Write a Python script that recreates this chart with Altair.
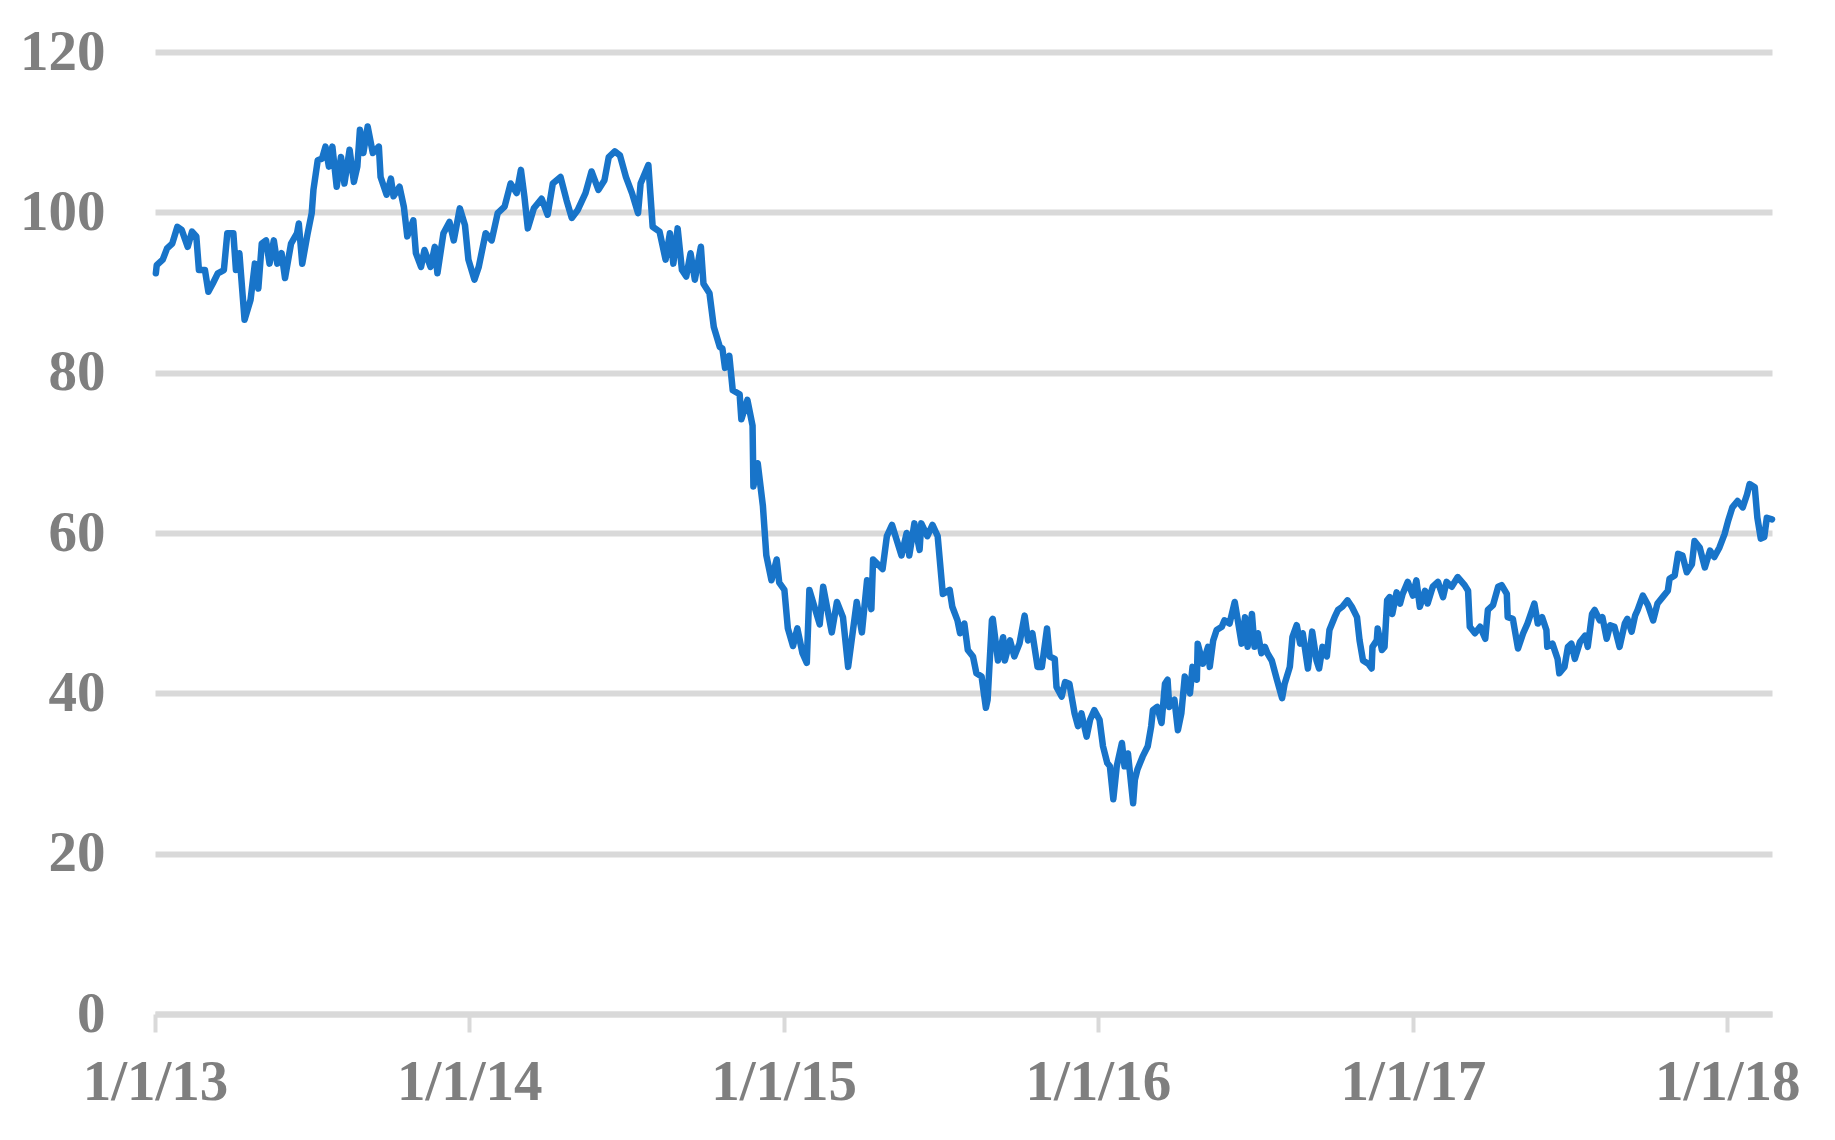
import altair as alt
import pandas as pd

# Days after 2013-01-01 and the price
day_offset = [
    1, 2, 9, 14, 20, 26, 31, 38, 43, 48, 51, 58, 62, 67, 73, 80, 84, 91, 94, 98,
    104, 111, 116, 120, 124, 129, 133, 138, 142, 147, 151, 158, 165, 167, 171, 177, 182, 184, 189, 194,
    198, 202, 206, 211, 216, 220, 226, 231, 235, 238, 242, 247, 253, 260, 262, 269, 274, 277, 284, 289,
    293, 300, 303, 309, 313, 320, 325, 328, 335, 342, 347, 354, 360, 364, 371, 376, 384, 391, 398, 406,
    413, 420, 425, 429, 433, 440, 449, 456, 462, 471, 478, 484, 491, 500, 507, 515, 522, 527, 534, 540,
    547, 554, 561, 564, 573, 578, 586, 593, 598, 602, 607, 612, 617, 622, 627, 634, 637, 644, 649, 656,
    659, 662, 667, 671, 679, 681, 688, 694, 695, 700, 706, 710, 716, 722, 725, 731, 735, 741, 746, 752,
    757, 760, 772, 776, 786, 792, 799, 805, 815, 821, 827, 832, 834, 845, 850, 856, 867, 873, 876, 882,
    888, 890, 897, 903, 909, 915, 923,
    926, 932, 935, 940, 944, 950, 954, 960, 965, 967, 972, 973, 979, 985, 987, 993, 998, 1004, 1010, 1014,
    1019, 1025, 1030, 1036, 1039, 1045, 1047, 1053, 1057, 1062, 1068, 1072, 1076, 1082, 1086, 1091, 1097, 1101, 1106, 1109,
    1113, 1117, 1123, 1126, 1130, 1136, 1138, 1141, 1147, 1153, 1157, 1159, 1164, 1169, 1173, 1176, 1178, 1184, 1188, 1192,
    1196, 1202, 1205, 1210, 1211, 1217, 1223, 1225, 1229, 1233, 1239, 1242, 1248, 1254, 1257, 1262, 1266, 1269, 1274, 1277,
    1281, 1285, 1289, 1292, 1297, 1303, 1309, 1312, 1318, 1321, 1326, 1330, 1333, 1339, 1344, 1349, 1352, 1356, 1361, 1364,
    1370, 1374, 1379, 1385, 1390, 1396, 1399, 1403, 1409, 1413, 1414, 1419, 1420, 1425, 1428, 1431, 1434, 1437, 1442,
    1446, 1449, 1455, 1461, 1465, 1469, 1475, 1478, 1484, 1490, 1496, 1500, 1506, 1513, 1521, 1525, 1527, 1533, 1539, 1545,
    1548, 1554, 1560, 1564, 1570, 1571, 1577, 1583, 1589, 1594, 1602, 1606, 1611, 1616, 1617, 1623, 1629, 1631, 1637, 1641,
    1645, 1649, 1655, 1661, 1664, 1669, 1672, 1678, 1681, 1686, 1690, 1695, 1701, 1707, 1710, 1715, 1719, 1722, 1728, 1734,
    1740, 1745, 1751, 1757, 1759, 1765, 1769, 1774, 1779, 1785, 1788, 1794, 1800, 1806, 1811, 1817, 1823, 1827, 1832, 1838,
    1844, 1849, 1852, 1858, 1861, 1865, 1869, 1872, 1878,
]

price = [
    92.4, 93.4, 94.1, 95.5, 96.1, 98.2, 97.8, 95.7, 97.6, 97.0, 92.8, 92.8, 90.1, 91.1, 92.4, 92.8, 97.4, 97.4, 92.8, 94.9,
    86.6, 89.1, 93.6, 90.5, 96.1, 96.5, 93.6, 96.5, 93.6, 94.9, 91.8, 96.1, 97.4, 98.6, 93.6, 97.2, 99.9, 102.8, 106.5, 106.7,
    108.2, 105.7, 108.2, 103.2, 106.9, 103.6, 107.8, 103.8, 105.7, 110.3, 107.4, 110.7, 107.4, 108.2, 104.4, 102.2, 104.2, 102.0, 103.2, 100.7,
    97.0, 99.0, 94.9, 93.2, 95.3, 93.2, 95.7, 92.4, 97.4, 98.8, 96.5, 100.5, 98.4, 94.1, 91.6, 93.2, 97.4, 96.5, 99.9, 100.7,
    103.6, 102.4, 105.3, 102.0, 98.0, 100.5, 101.7, 99.7, 103.6, 104.4, 101.5, 99.3, 100.3, 102.4, 105.1, 102.8, 104.0, 106.9, 107.6, 107.1,
    104.4, 102.4, 99.9, 103.6, 105.9, 98.2, 97.6, 94.1, 97.4, 93.6, 98.0, 92.8, 92.0, 94.9, 91.6, 95.7, 91.1, 89.9, 85.7, 83.2,
    83.0, 80.6, 82.1, 77.8, 77.3, 74.2, 76.6, 73.4, 65.8, 68.7, 63.4, 57.2, 54.1, 56.7, 53.8, 52.9, 48.1, 45.9, 48.1, 45.0,
    43.8, 52.9, 48.6, 53.3, 47.6, 51.4, 49.5, 43.3, 51.4, 47.6, 54.1, 50.5, 56.7, 55.5, 59.6, 61.0, 57.2, 60.0, 57.2, 61.2,
    57.9, 61.2, 59.6, 61.0, 59.6, 52.4, 52.9,
    50.8, 49.1, 47.5, 48.7, 45.4, 44.6, 42.5, 42.1, 38.2, 39.2, 49.1, 49.3, 44.1, 47.0, 44.1, 46.6, 44.6, 46.2, 49.7, 46.6,
    47.5, 43.3, 43.3, 48.1, 44.6, 44.3, 40.8, 39.6, 41.4, 41.2, 37.5, 35.9, 37.5, 34.6, 36.7, 37.9, 36.7, 33.4, 31.3, 30.9,
    26.8, 30.9, 33.8, 30.9, 32.5, 26.3, 29.2, 30.5, 32.1, 33.4, 35.9, 37.9, 38.3, 36.3, 41.2, 41.7, 38.3, 39.2, 35.4, 37.5,
    42.1, 40.0, 43.3, 41.7, 46.2, 43.7, 45.8, 43.3, 46.6, 47.9, 48.3, 49.1, 48.7, 51.4, 49.5, 46.2, 49.5, 45.8, 49.9, 45.8,
    47.5, 45.0, 45.8, 45.0, 44.1, 41.7, 39.4, 41.2, 43.3, 47.0, 48.5, 46.2, 47.5, 43.1, 47.7, 44.1, 43.1, 45.8, 44.6, 47.9,
    49.5, 50.4, 50.8, 51.6, 50.8, 49.5, 46.6, 44.1, 43.7, 43.1, 45.8, 46.6, 48.1, 45.4, 45.8, 51.6, 52.0, 49.9, 52.6,
    51.2, 52.4, 53.9, 52.2, 54.1, 50.8, 52.8, 51.2, 53.3, 53.9, 52.0, 53.9, 53.3, 54.5, 53.5, 52.8, 48.3, 47.5, 48.3, 46.8,
    50.4, 51.0, 53.3, 53.5, 52.4, 49.5, 49.3, 45.6, 47.5, 48.7, 51.2, 48.7, 49.5, 47.9, 45.8, 46.2, 44.3, 42.5, 43.3, 45.8,
    46.2, 44.3, 46.4, 47.2, 45.8, 49.9, 50.4, 49.1, 49.5, 46.8, 48.5, 48.3, 45.8, 48.7, 49.3, 47.7, 49.7, 50.4, 52.2, 51.0,
    49.1, 51.2, 52.0, 52.8, 54.3, 54.7, 57.4, 57.2, 55.1, 56.1, 59.0, 58.2, 55.7, 57.8, 57.0, 58.2, 59.9, 61.5, 63.2, 64.0,
    63.2, 64.8, 66.1, 65.7, 61.9, 59.3, 59.5, 61.9, 61.7,
]

y_ticks = [0, 20, 40, 60, 80, 100, 120]
x_tick_years = [2013, 2014, 2015, 2016, 2017, 2018]

start = pd.Timestamp("2013-01-01")
dates = [(start + pd.Timedelta(days=d)).strftime("%Y-%m-%d") for d in day_offset]
df = pd.DataFrame({"date": dates, "price": price})

FONT = "Times New Roman, Liberation Serif, serif"
GRAY = "#7f7f7f"
GRID = "#d9d9d9"

chart = (
    alt.Chart(df)
    .mark_line(color="#1874C9", strokeWidth=6.5, strokeJoin="round", strokeCap="round")
    .encode(
        x=alt.X(
            "date:T",
            scale=alt.Scale(
                type="utc",
                domain=[
                    alt.DateTime(year=2013, month=1, date=1, utc=True),
                    alt.DateTime(year=2018, month=2, date=22, utc=True),
                ],
                nice=False,
            ),
            axis=alt.Axis(
                title=None,
                values=[alt.DateTime(year=y, month=1, date=1, utc=True) for y in x_tick_years],
                labelExpr="utcFormat(datum.value, '%-m/%-d/%y')",
                grid=False,
                domain=True,
                domainColor=GRID,
                domainWidth=6,
                ticks=True,
                tickColor=GRID,
                tickWidth=4,
                tickSize=18,
                labelPadding=22,
                labelFont=FONT,
                labelFontWeight="bold",
                labelFontSize=57,
                labelColor=GRAY,
                labelOverlap=False,
                labelFlush=False,
                labelBound=False,
            ),
        ),
        y=alt.Y(
            "price:Q",
            scale=alt.Scale(domain=[0, 120], nice=False, zero=True),
            axis=alt.Axis(
                title=None,
                values=y_ticks,
                grid=True,
                gridColor=GRID,
                gridWidth=6,
                domain=False,
                ticks=False,
                labelPadding=50,
                labelFont=FONT,
                labelFontWeight="bold",
                labelFontSize=57,
                labelColor=GRAY,
                labelBaseline="middle",
                labelOverlap=False,
                labelFlush=False,
                labelBound=False,
            ),
        ),
    )
    .properties(
        width=1617,
        height=962,
        background="white",
        autosize=alt.AutoSizeParams(type="none"),
        padding={"left": 147, "top": 44, "right": 50, "bottom": 100},
    )
    .configure_view(stroke="transparent", strokeWidth=0)
)

chart.save("out.html", embed_options={"renderer": "svg", "actions": False})
